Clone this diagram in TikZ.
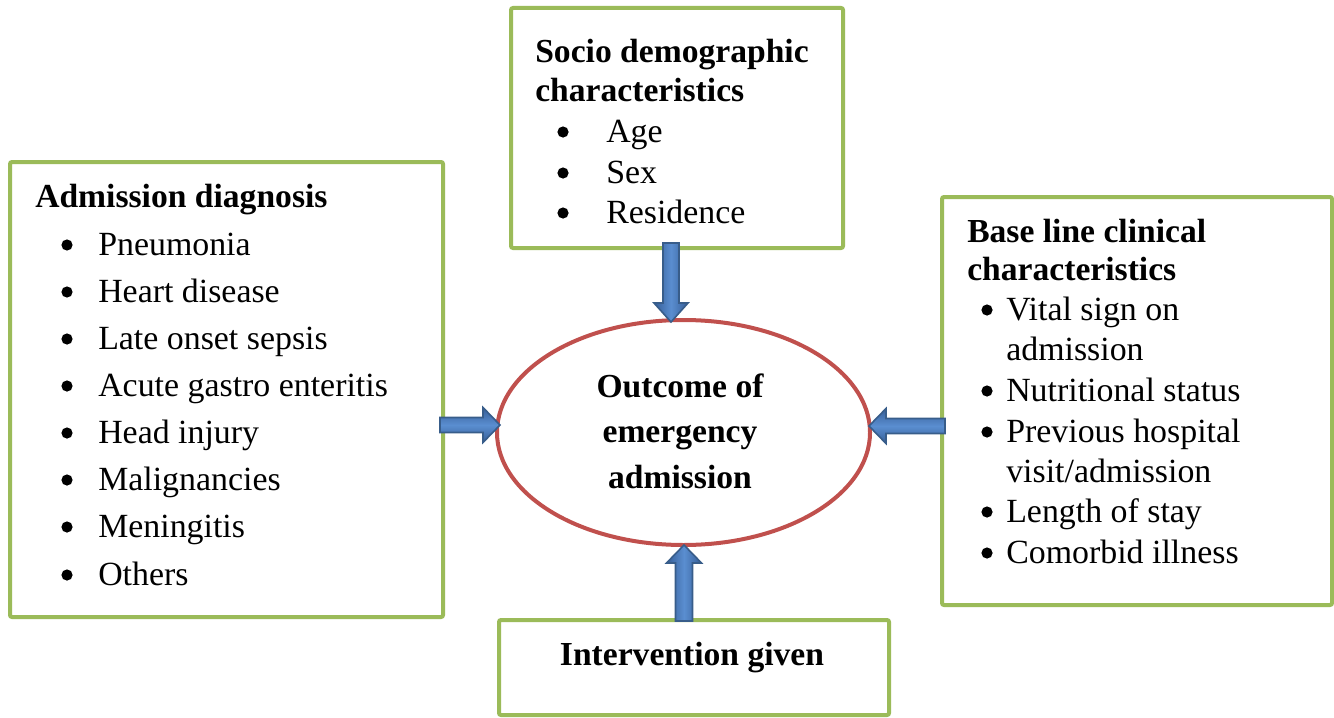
\documentclass[tikz,border=0pt]{standalone}
\usepackage{fontspec}
\setmainfont{Liberation Serif}
\usetikzlibrary{shapes.geometric,calc}
\definecolor{boxgreen}{HTML}{9BBB59}
\definecolor{ellred}{HTML}{C0504D}
\definecolor{arrdark}{HTML}{365E98}
\definecolor{arrlight}{HTML}{5A8ED0}
\definecolor{arredge}{HTML}{385D8A}
\begin{document}
\begin{tikzpicture}[x=0.75pt,y=-0.75pt,
  box/.style={rectangle,draw=boxgreen,line width=3pt,rounded corners=1.5pt,fill=white,inner sep=0pt},
  oval/.style={ellipse,draw=ellred,line width=3pt,inner sep=0pt},
  txt/.style={inner sep=0pt,anchor=base west,font=\fontsize{25.4}{30}\selectfont},
  ttl/.style={txt,font=\fontsize{25.2}{30}\selectfont\bfseries},
  ctr/.style={inner sep=0pt,anchor=base,font=\fontsize{25.2}{30}\selectfont\bfseries},
  bul/.style={circle,fill=black,inner sep=0pt,minimum size=8.4pt},
  harrow/.style={draw=arredge,line width=1.2pt,top color=arrdark,bottom color=arrdark,middle color=arrlight},
  varrow/.style={draw=arredge,line width=1.2pt,left color=arrdark,right color=arrdark,middle color=arrlight}
]
\useasboundingbox (0,0) rectangle (1334,717);

% boxes
\node[box,minimum width={433*0.75pt},minimum height={455*0.75pt}] (L) at (226.5,389.5) {};
\node[box,minimum width={332*0.75pt},minimum height={240*0.75pt}] (T) at (677,128) {};
\node[box,minimum width={390*0.75pt},minimum height={408*0.75pt}] (R) at (1137,401) {};
\node[box,minimum width={390*0.75pt},minimum height={95*0.75pt}] (B) at (694,667.5) {};
\node[oval,minimum width={373*0.75pt},minimum height={225*0.75pt}] (E) at (683.5,432.5) {};

% left box text
\node[ttl] (Lt) at (35,207) {Admission diagnosis};
\foreach \i/\y/\t in {1/255/Pneumonia,2/302/Heart disease,3/349/Late onset sepsis,4/396/Acute gastro enteritis,5/443/Head injury,6/490/Malignancies,7/537/Meningitis,8/585/Others}{
  \node[bul] (Lb\i) at (67,\y-10) {};
  \node[txt] (Li\i) at (98,\y) {\t};
}

% top box text
\node[ttl] (Tt1) at (535,63) {Socio demographic};
\node[ttl] (Tt2) at (535,102) {characteristics};
\foreach \i/\y/\t in {1/142/Age,2/183/Sex,3/223/Residence}{
  \node[bul] (Tb\i) at (563,\y-10) {};
  \node[txt] (Ti\i) at (606,\y) {\t};
}

% right box text
\node[ttl] (Rt1) at (967,242) {Base line clinical};
\node[ttl] (Rt2) at (967,280) {characteristics};
\foreach \i/\y in {1/320,3/401,4/442,6/522,7/563}{
  \node[bul] (Rb\i) at (987,\y-10) {};
}
\foreach \i/\y/\t in {1/320/{Vital sign on},2/360/{admission},3/401/{Nutritional status},4/442/{Previous hospital},5/482/{visit/admission},6/522/{Length of stay},7/563/{Comorbid illness}}{
  \node[txt] (Ri\i) at (1006,\y) {\t};
}

% ellipse text
\node[ctr] (E1) at (680,397) {Outcome of};
\node[ctr] (E2) at (680,442) {emergency};
\node[ctr] (E3) at (680,488) {admission};

% bottom text
\node[ctr] (B1) at (692,665) {Intervention given};

% block arrows
\coordinate (la0) at (440,425);
\coordinate (la1) at (500,425);
\path[harrow] ($(la0)+(0,-7.5)$) -- ($(la1)+(-17,-7.5)$) -- ($(la1)+(-17,-17.5)$) -- (la1)
  -- ($(la1)+(-17,17.5)$) -- ($(la1)+(-17,7.5)$) -- ($(la0)+(0,7.5)$) -- cycle;

\coordinate (ra0) at (945,426);
\coordinate (ra1) at (869,426);
\path[harrow] ($(ra0)+(0,-7.5)$) -- ($(ra1)+(17,-7.5)$) -- ($(ra1)+(17,-17.5)$) -- (ra1)
  -- ($(ra1)+(17,17.5)$) -- ($(ra1)+(17,7.5)$) -- ($(ra0)+(0,7.5)$) -- cycle;

\coordinate (ta0) at (671,243);
\coordinate (ta1) at (671,322);
\path[varrow] ($(ta0)+(-8,0)$) -- ($(ta1)+(-8,-19)$) -- ($(ta1)+(-17,-19)$) -- (ta1)
  -- ($(ta1)+(17,-19)$) -- ($(ta1)+(8,-19)$) -- ($(ta0)+(8,0)$) -- cycle;

\coordinate (ba0) at (684,621);
\coordinate (ba1) at (684,545);
\path[varrow] ($(ba0)+(-8.5,0)$) -- ($(ba1)+(-8.5,18)$) -- ($(ba1)+(-17.5,18)$) -- (ba1)
  -- ($(ba1)+(17.5,18)$) -- ($(ba1)+(8.5,18)$) -- ($(ba0)+(8.5,0)$) -- cycle;
\end{tikzpicture}
\end{document}
